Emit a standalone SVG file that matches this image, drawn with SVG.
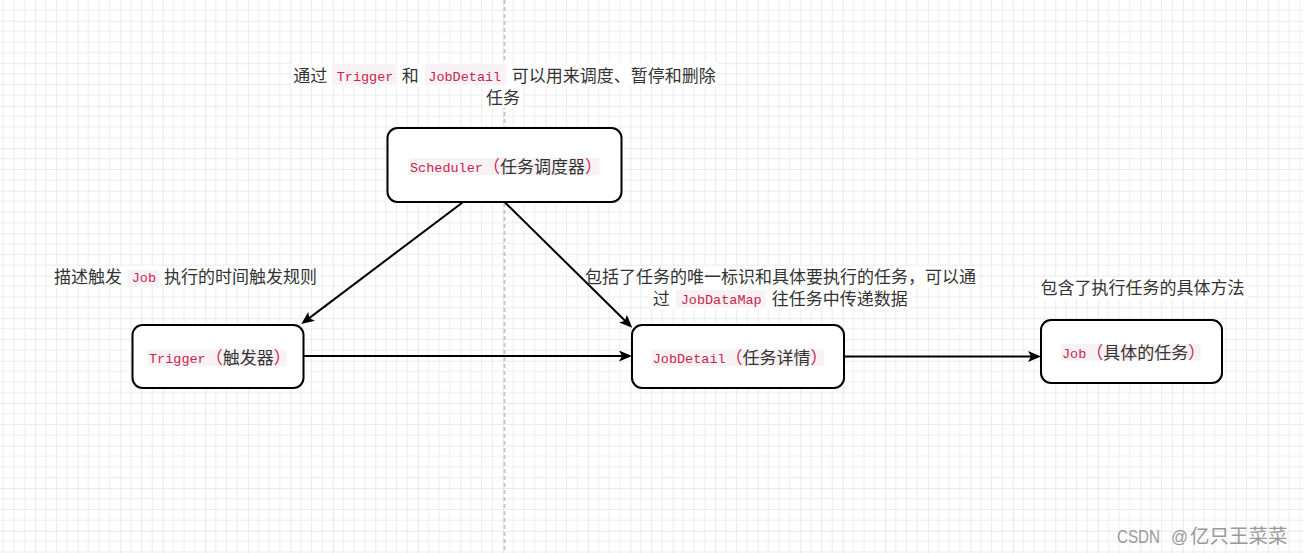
<svg xmlns="http://www.w3.org/2000/svg" width="1304" height="553" viewBox="0 0 1304 553">
<style>
.cj{font-family:"Noto Sans CJK SC","Noto Sans",sans-serif;font-size:17px;fill:#333}
.pp{font-family:"Noto Sans CJK SC","Noto Sans",sans-serif;font-size:17px;fill:#c7254e}
.cd{font-family:"Liberation Mono",monospace;font-size:13.5px;fill:#c7254e}
.cbg{fill:#f9f2f4}
.lbg{fill:#fff}
.node{fill:#fff;stroke:#000;stroke-width:2}
.edge{fill:none;stroke:#000;stroke-width:2;marker-end:url(#arr)}
.wm{font-family:"Liberation Sans",Arial,sans-serif;font-size:17.5px;fill:#999}
.wmc{font-family:"Noto Sans CJK SC",sans-serif;font-size:19.5px;fill:#999}
</style>
<defs>
<pattern id="grid" patternUnits="userSpaceOnUse" x="35.3" y="20.7" width="42.5" height="42.5">
<rect x="10.1" y="0" width="1" height="42.5" fill="#ececec"/>
<rect x="20.75" y="0" width="1" height="42.5" fill="#ececec"/>
<rect x="31.4" y="0" width="1" height="42.5" fill="#ececec"/>
<rect x="0" y="10.1" width="42.5" height="1" fill="#ececec"/>
<rect x="0" y="20.75" width="42.5" height="1" fill="#ececec"/>
<rect x="0" y="31.4" width="42.5" height="1" fill="#ececec"/>
<rect x="-0.5" y="0" width="1" height="42.5" fill="#d6d6d6"/>
<rect x="0" y="-0.5" width="42.5" height="1" fill="#d6d6d6"/>
</pattern>
<marker id="arr" markerUnits="userSpaceOnUse" markerWidth="13" markerHeight="11" viewBox="0 0 13 11" refX="3" refY="5.5" orient="auto">
<path d="M13,5.5 L0,0 L3,5.5 L0,11 Z" fill="#000"/>
</marker>
</defs>
<rect width="1304" height="553" fill="#fff"/>
<rect width="1304" height="553" fill="url(#grid)"/>
<line x1="504.5" y1="0" x2="504.5" y2="553" stroke="#c8c8c8" stroke-width="2" stroke-dasharray="4 3"/>

<g id="label-scheduler-note">
<rect class="lbg" x="291" y="63" width="427" height="23"/>
<rect class="lbg" x="484" y="86" width="38" height="22"/>
<rect class="cbg" x="332.3" y="63.5" width="65" height="21.5"/>
<rect class="cbg" x="425" y="63.5" width="81.7" height="21.5"/>
<text class="cj" x="293.3" y="82">通过</text>
<text class="cd" x="336.7" y="81">Trigger</text>
<text class="cj" x="401.7" y="82">和</text>
<text class="cd" x="428.3" y="81">JobDetail</text>
<text class="cj" x="511.7" y="82">可以用来调度、暂停和删除</text>
<text class="cj" x="486" y="104">任务</text>
</g>

<g id="label-trigger-note">
<rect class="lbg" x="52" y="266" width="267" height="22"/>
<rect class="cbg" x="127.3" y="270" width="31.7" height="17.5"/>
<text class="cj" x="54" y="283">描述触发</text>
<text class="cd" x="131.7" y="282">Job</text>
<text class="cj" x="164" y="283">执行的时间触发规则</text>
</g>

<g id="label-jobdetail-note">
<rect class="lbg" x="583" y="266" width="395" height="22"/>
<rect class="lbg" x="650" y="288" width="260" height="21"/>
<rect class="cbg" x="676" y="290" width="89.7" height="17.7"/>
<text class="cj" x="585" y="283">包括了任务的唯一标识和具体要执行的任务，可以通</text>
<text class="cj" x="652.7" y="304.5">过</text>
<text class="cd" x="680.7" y="303.5">JobDataMap</text>
<text class="cj" x="771.7" y="304.5">往任务中传递数据</text>
</g>

<g id="label-job-note">
<rect class="lbg" x="1038" y="277" width="210" height="22"/>
<text class="cj" x="1040.5" y="294">包含了执行任务的具体方法</text>
</g>

<g id="node-scheduler">
<rect class="node" x="387.5" y="128" width="234" height="74" rx="10"/>
<rect class="cbg" x="409.5" y="158" width="190" height="17"/>
<text class="cd" x="410" y="172">Scheduler</text>
<text class="pp" x="482.9" y="173">（</text>
<text class="cj" x="499.9" y="173">任务调度器</text>
<text class="pp" x="584.9" y="173">）</text>
</g>

<g id="node-trigger">
<rect class="node" x="132.5" y="325" width="171" height="63" rx="10"/>
<rect class="cbg" x="147.7" y="349.5" width="139" height="16.5"/>
<text class="cd" x="149" y="363">Trigger</text>
<text class="pp" x="205.7" y="364">（</text>
<text class="cj" x="222.7" y="364">触发器</text>
<text class="pp" x="273.7" y="364">）</text>
</g>

<g id="node-jobdetail">
<rect class="node" x="632" y="325" width="212" height="63" rx="10"/>
<rect class="cbg" x="651.7" y="349.5" width="172.3" height="16.5"/>
<text class="cd" x="652.7" y="363">JobDetail</text>
<text class="pp" x="725.6" y="364">（</text>
<text class="cj" x="742.6" y="364">任务详情</text>
<text class="pp" x="810.6" y="364">）</text>
</g>

<g id="node-job">
<rect class="node" x="1041" y="320" width="181" height="63" rx="10"/>
<rect class="cbg" x="1061" y="344" width="139.7" height="16.5"/>
<text class="cd" x="1062" y="358">Job</text>
<text class="pp" x="1086.3" y="359">（</text>
<text class="cj" x="1103.3" y="359">具体的任务</text>
<text class="pp" x="1188.3" y="359">）</text>
</g>

<g id="connectors">
<path class="edge" d="M462.5,202.5 L309.2,318.1"/>
<path class="edge" d="M505,202.5 L625.1,320.7"/>
<path class="edge" d="M303,356 L622,356"/>
<path class="edge" d="M844,356.5 L1031,356.5"/>
</g>

<g id="watermark">
<text class="wm" x="1117" y="542.5" textLength="43" lengthAdjust="spacingAndGlyphs">CSDN</text>
<text class="wm" x="1171" y="542.5" textLength="17" lengthAdjust="spacingAndGlyphs">@</text>
<text class="wmc" x="1190" y="543">亿只王菜菜</text>
</g>
</svg>
